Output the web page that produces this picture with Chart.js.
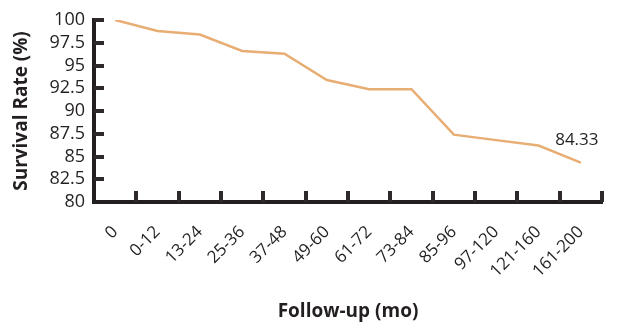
<!DOCTYPE html>
<html>
<head>
<meta charset="utf-8">
<script src="https://cdn.jsdelivr.net/npm/chart.js@4/dist/chart.umd.min.js"></script>
<style>
  html, body { margin: 0; padding: 0; background: #fff; }
  #wrap { width: 641px; height: 326px; }
</style>
</head>
<body>
<div id="wrap"><canvas id="myChart" width="641" height="326"></canvas></div>
<script>
// follow-up periods (months)
const periods = ["0", "0-12", "13-24", "25-36", "37-48", "49-60", "61-72", "73-84", "85-96", "97-120", "121-160", "161-200"];
// survival rate in %
const survival = [100, 98.8, 98.4, 96.6, 96.3, 93.4, 92.4, 92.4, 87.4, 86.8, 86.2, 84.33];
const yTicks = [82.5, 85, 87.5, 90, 92.5, 95, 97.5, 100];
const lastLabel = "84.33";

const ink = "#231f20";
const tickInk = "#2e2a2b";

// short tick marks pointing into the plot, drawn before the line
const innerTicks = {
  id: "innerTicks",
  beforeDatasetsDraw(chart) {
    const ctx = chart.ctx;
    const area = chart.chartArea;
    const xs = chart.scales.x;
    const ys = chart.scales.y;
    ctx.save();
    ctx.fillStyle = tickInk;
    yTicks.forEach((v) => {
      const y = Math.round(ys.getPixelForValue(v));
      ctx.fillRect(area.left, y - 2, 10, 4);
    });
    const step = xs.getPixelForValue(1) - xs.getPixelForValue(0);
    for (let i = 0; i < periods.length; i++) {
      const x = Math.round(xs.getPixelForValue(i) + step / 2);
      ctx.fillRect(x - 2, area.bottom - 11, 4, 11);
    }
    ctx.restore();
  }
};

// value written over the last point
const lastValue = {
  id: "lastValue",
  afterDatasetsDraw(chart) {
    const ctx = chart.ctx;
    const pts = chart.getDatasetMeta(0).data;
    const p = pts[pts.length - 1];
    ctx.save();
    ctx.fillStyle = ink;
    ctx.font = "17px 'Open Sans'";
    ctx.textAlign = "center";
    ctx.textBaseline = "middle";
    ctx.fillText(lastLabel, p.x - 4, p.y - 22);
    ctx.restore();
  }
};

const config = {
  type: "line",
  data: {
    labels: periods,
    datasets: [{
      data: survival,
      borderColor: "#e8ad73",
      borderWidth: 2.5,
      pointRadius: 0,
      tension: 0,
      fill: false
    }]
  },
  options: {
    responsive: false,
    animation: false,
    layout: { padding: { top: 20, right: 39, left: 0, bottom: 0 } },
    plugins: {
      legend: { display: false },
      tooltip: { enabled: false }
    },
    scales: {
      x: {
        offset: true,
        grid: { offset: true, drawOnChartArea: false, drawTicks: false },
        border: { color: ink, width: 4 },
        ticks: {
          color: ink,
          font: { family: "Open Sans", size: 17 },
          minRotation: 45,
          maxRotation: 45,
          autoSkip: false,
          padding: 20
        },
        title: {
          display: true,
          text: "Follow-up (mo)",
          color: ink,
          font: { family: "Open Sans", size: 19, weight: "bold" },
          padding: { top: 0, bottom: 3 }
        },
        afterFit: (s) => { s.height = 124; }
      },
      y: {
        min: 80,
        max: 100,
        grid: { drawOnChartArea: false, drawTicks: false },
        border: { color: ink, width: 4 },
        ticks: {
          stepSize: 2.5,
          autoSkip: false,
          color: ink,
          font: { family: "Open Sans", size: 18 },
          padding: 9
        },
        title: {
          display: true,
          text: "Survival Rate (%)",
          color: ink,
          font: { family: "Open Sans", size: 19, weight: "bold" },
          padding: { top: 10, bottom: 0 }
        },
        afterFit: (s) => { s.width = 94; }
      }
    }
  },
  plugins: [innerTicks, lastValue]
};

const myChart = new Chart(document.getElementById("myChart"), config);
</script>
</body>
</html>
